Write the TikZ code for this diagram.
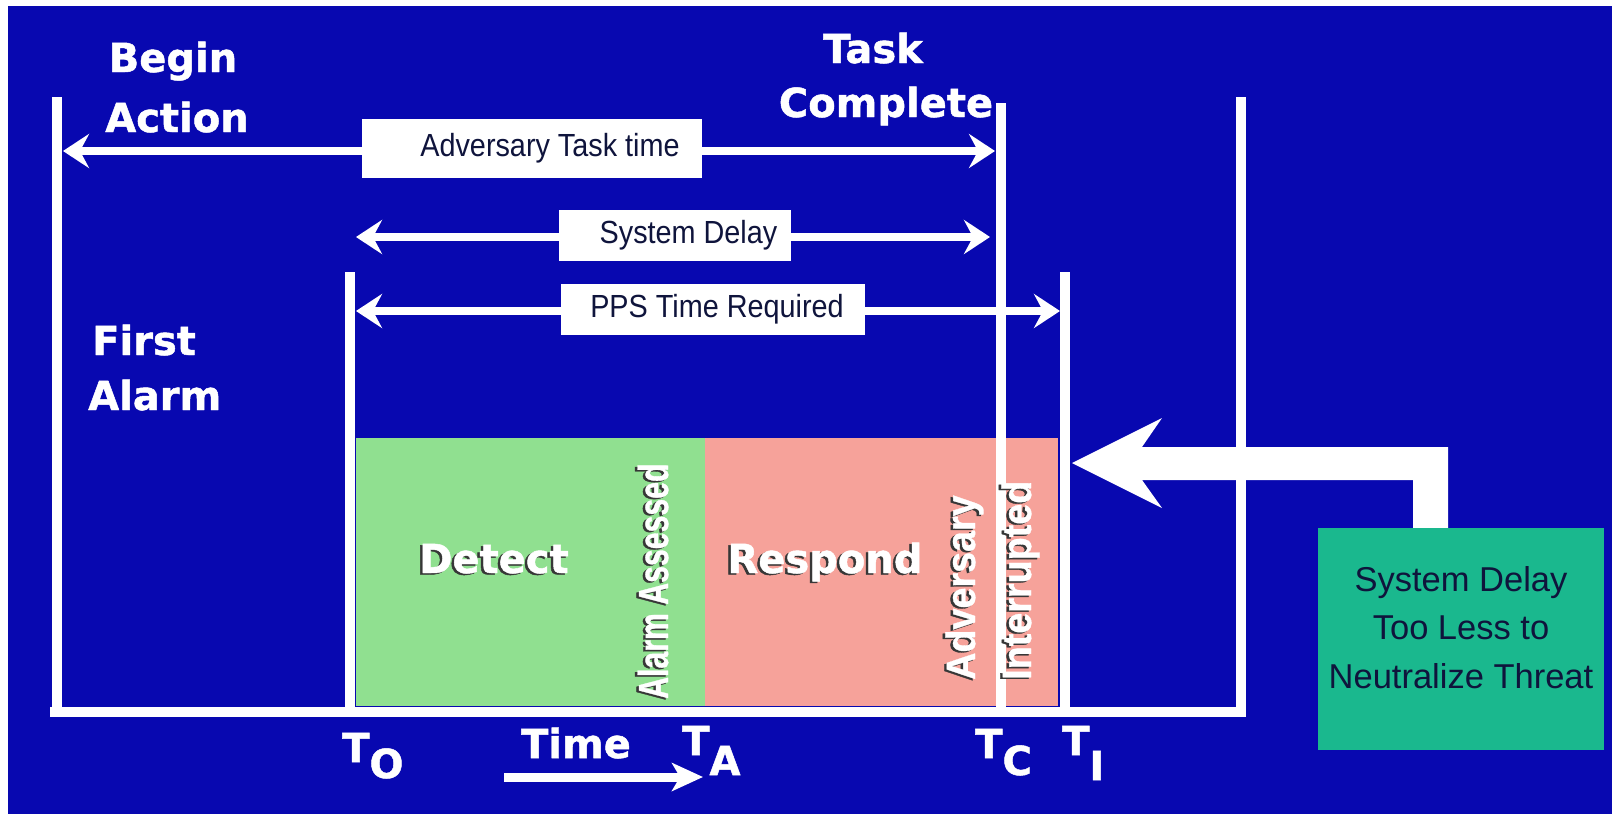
\documentclass[tikz,border=0pt]{standalone}
\usepackage{fontspec}
\setmainfont{Liberation Sans}
\newfontfamily\heavyf{DejaVu Sans Bold}[FakeBold=1.2]
\newfontfamily\narrowf{Liberation Sans}[FakeStretch=0.9]
\newfontfamily\condf{Liberation Sans Bold}[FakeStretch=0.72,FakeBold=0.8]
\newfontfamily\rotf{Liberation Sans Bold}[FakeStretch=0.92,FakeBold=0.8]
\usetikzlibrary{arrows.meta}
\definecolor{bg}{RGB}{8,8,176}
\definecolor{detg}{RGB}{144,224,144}
\definecolor{resp}{RGB}{246,162,154}
\definecolor{tealbox}{RGB}{26,184,142}
\definecolor{navy}{RGB}{15,20,60}
\definecolor{shadowc}{RGB}{55,55,55}
\newcommand\embh[1]{\leavevmode\rlap{\kern-2.5pt\raisebox{-1.5pt}{\color{shadowc}#1}}{\color{white}#1}}
\newcommand\embv[1]{\leavevmode\rlap{\kern-1.5pt\raisebox{2.5pt}{\color{shadowc}#1}}{\color{white}#1}}
\tikzset{
  wline/.style={white, line width=10pt},
  dimarrow/.style={white, line width=8.5pt,
    {Stealth[length=26pt,width=34pt,inset=9pt]}-{Stealth[length=26pt,width=34pt,inset=9pt]}},
  lbl/.style={fill=white, inner sep=0pt, text=navy, font=\narrowf\fontsize{32}{38}\selectfont},
  hd/.style={inner sep=0pt, text=white, font=\heavyf\fontsize{40}{48}\selectfont},
}
\begin{document}
\begin{tikzpicture}[x=1pt,y=-1pt]
\useasboundingbox (0,0) rectangle (1612,814);
\fill[white] (0,0) rectangle (1612,814);
\fill[bg] (8,6) rectangle (1612,814);

% phase blocks
\fill[detg] (356,438) rectangle (705,706);
\fill[resp] (705,438) rectangle (1058,706);

% time lines
\coordinate (lTop) at (57,97);   \coordinate (lBot) at (57,712);
\coordinate (oTop) at (350,272); \coordinate (oBot) at (350,712);
\coordinate (cTop) at (1001,103);\coordinate (cBot) at (1001,712);
\coordinate (iTop) at (1065,272);\coordinate (iBot) at (1065,712);
\coordinate (rTop) at (1241,97); \coordinate (rBot) at (1241,712);
\coordinate (axL) at (50,712);   \coordinate (axR) at (1246,712);
\draw[wline] (lTop) -- (lBot);
\draw[wline] (oTop) -- (oBot);
\draw[wline] (cTop) -- (cBot);
\draw[wline] (iTop) -- (iBot);
\draw[wline] (rTop) -- (rBot);
\draw[wline] (axL) -- (axR);

% dimension arrows
\coordinate (advL) at (63,151);  \coordinate (advR) at (995,151);
\coordinate (sdL) at (356,237);  \coordinate (sdR) at (990,237);
\coordinate (ppsL) at (356,311); \coordinate (ppsR) at (1060,311);
\draw[dimarrow] (advL) -- (advR);
\draw[dimarrow] (sdL) -- (sdR);
\draw[dimarrow] (ppsL) -- (ppsR);

\node[lbl, minimum width=340pt, minimum height=59pt] (advbox) at (532,148) {\hspace*{36pt}Adversary Task time};
\node[lbl, minimum width=232pt, minimum height=51pt] (sdbox) at (675,235.5) {\hspace*{27pt}System Delay};
\node[lbl, minimum width=304pt, minimum height=51pt] (ppsbox) at (713,309.5) {\hspace*{8pt}PPS Time Required};

% headings
\node[hd, anchor=base] (begin) at (173,72) {Begin};
\node[hd, anchor=base] (action) at (177,132) {Action};
\node[hd, anchor=base] (task) at (873,63) {Task};
\node[hd, anchor=base] (complete) at (886,117) {Complete};
\node[hd, anchor=base west] (first) at (92,355) {First};
\node[hd, anchor=base west] (alarm) at (88,410) {Alarm};

% block labels
\node[hd, anchor=base] (detect) at (494,573) {\embh{Detect}};
\node[hd, anchor=base] (respond) at (825,573) {\embh{Respond}};
\node[inner sep=0pt, font=\condf\fontsize{42}{48}\selectfont, rotate=90, anchor=base west] (assessed) at (668,699) {\embv{Alarm Assessed}};
\node[inner sep=0pt, font=\rotf\fontsize{41}{48}\selectfont, rotate=90, anchor=base west] (adversary) at (975,680) {\embv{Adversary}};
\node[inner sep=0pt, font=\rotf\fontsize{41}{48}\selectfont, rotate=90, anchor=base west] (interrupted) at (1031,680) {\embv{Interrupted}};

% time axis labels
\node[hd, anchor=base west] (tO) at (342,762) {T\raisebox{-16pt}{O}};
\node[hd, anchor=base west] (tA) at (682,755) {T\raisebox{-20pt}{A}};
\node[hd, anchor=base west] (tC) at (975,758) {T\raisebox{-17pt}{C}};
\node[hd, anchor=base west] (tI) at (1062,755) {T\raisebox{-25pt}{I}};
\node[hd, anchor=base] (time) at (576,758) {Time};
\coordinate (timeS) at (504,777); \coordinate (timeE) at (703,777);
\draw[white, line width=9pt, -{Stealth[length=31pt,width=28pt,inset=8pt]}] (timeS) -- (timeE);

% feedback arrow and box
\fill[white] (1072,463) -- (1162,418) -- (1142,447) -- (1448,447) -- (1448,528)
  -- (1413,528) -- (1413,480) -- (1142,480) -- (1162,508) -- cycle;
\node[fill=tealbox, minimum width=286pt, minimum height=222pt, inner sep=0pt] (threatbox) at (1461,639) {};
\node[inner sep=0pt, text=navy, align=center, anchor=north,
  font=\fontsize{34.5}{48.5}\selectfont] (threattxt) at (1461,566) {System Delay\\Too Less to\\Neutralize Threat};
\end{tikzpicture}
\end{document}
